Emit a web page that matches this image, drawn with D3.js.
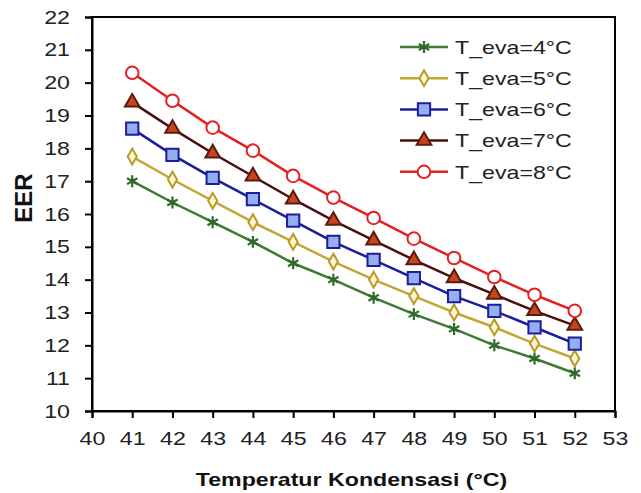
<!DOCTYPE html>
<html>
<head>
<meta charset="utf-8">
<script src="https://cdn.jsdelivr.net/npm/d3@7"></script>
<style>
	body { margin: 0; background: #fff; }
	text { font-family: "Liberation Sans", Arial, sans-serif; }
</style>
</head>
<body>
<script>
const w = 641;
const h = 493;
const m = {top: 17, right: 26, bottom: 82, left: 92};
const k = 1.22; // text in the picture is a bit wider than normal

const kondensasi = [41, 42, 43, 44, 45, 46, 47, 48, 49, 50, 51, 52];
const eer4 = [17.0, 16.35, 15.75, 15.15, 14.5, 14.0, 13.45, 12.95, 12.5, 12.0, 11.6, 11.15];
const eer5 = [17.75, 17.05, 16.4, 15.75, 15.15, 14.55, 14.0, 13.5, 13.0, 12.55, 12.05, 11.6];
const eer6 = [18.6, 17.8, 17.1, 16.45, 15.8, 15.15, 14.6, 14.05, 13.5, 13.05, 12.55, 12.05];
const eer7 = [19.4, 18.6, 17.85, 17.15, 16.45, 15.8, 15.2, 14.6, 14.05, 13.55, 13.05, 12.6];
const eer8 = [20.3, 19.45, 18.63, 17.93, 17.16, 16.5, 15.88, 15.25, 14.66, 14.08, 13.54, 13.05];
const xTicks = [40, 41, 42, 43, 44, 45, 46, 47, 48, 49, 50, 51, 52, 53];
const yTicks = [10, 11, 12, 13, 14, 15, 16, 17, 18, 19, 20, 21, 22];
const labels = ['T_eva=4°C', 'T_eva=5°C', 'T_eva=6°C', 'T_eva=7°C', 'T_eva=8°C'];

const series = [
	{name: labels[0], values: eer4, line: '#3f7a35', stroke: '#2f6a28', fill: '#2f6a28', shape: 'star'},
	{name: labels[1], values: eer5, line: '#c4a637', stroke: '#b89a2a', fill: '#fff6cc', shape: 'diamond'},
	{name: labels[2], values: eer6, line: '#1a1d9c', stroke: '#1a1d9c', fill: '#94aef0', shape: 'square'},
	{name: labels[3], values: eer7, line: '#4a0f0f', stroke: '#5a1a10', fill: '#c8441c', shape: 'triangle'},
	{name: labels[4], values: eer8, line: '#e22222', stroke: '#e22222', fill: '#ffffff', shape: 'circle'}
];

function stretch(sel) {
	sel.each(function () {
		const len = this.getComputedTextLength();
		d3.select(this).attr('textLength', len * k).attr('lengthAdjust', 'spacingAndGlyphs');
	});
}

const svg = d3.select('body').append('svg')
	.attr('width', w)
	.attr('height', h);

const x = d3.scaleLinear().domain([40, 53]).range([m.left, w - m.right]);
const y = d3.scaleLinear().domain([10, 22]).range([h - m.bottom, m.top]);

// frame
svg.append('rect')
	.attr('x', m.left).attr('y', m.top)
	.attr('width', w - m.right - m.left).attr('height', h - m.bottom - m.top)
	.attr('fill', 'none').attr('stroke', '#000').attr('stroke-width', 2);

const xAxis = svg.append('g')
	.attr('transform', `translate(0,${h - m.bottom})`)
	.call(d3.axisBottom(x).tickValues(xTicks).tickSize(7).tickPadding(14).tickFormat(d3.format('d')));

const yAxis = svg.append('g')
	.attr('transform', `translate(${m.left},0)`)
	.call(d3.axisLeft(y).tickValues(yTicks).tickSize(7).tickPadding(15).tickFormat(d3.format('d')));

[xAxis, yAxis].forEach(a => {
	a.select('.domain').attr('stroke', '#000').attr('stroke-width', 2);
	a.selectAll('.tick line').attr('stroke', '#000').attr('stroke-width', 2);
	a.selectAll('.tick text').attr('fill', '#222').style('font-size', '19px').call(stretch);
});

svg.append('text')
	.attr('x', (m.left + w - m.right) / 2 - 2)
	.attr('y', 486)
	.attr('text-anchor', 'middle')
	.attr('fill', '#111')
	.style('font-size', '19px')
	.style('font-weight', 'bold')
	.text('Temperatur Kondensasi (°C)')
	.call(stretch);

svg.append('text')
	.attr('transform', 'translate(32,198) rotate(-90)')
	.attr('text-anchor', 'middle')
	.attr('fill', '#111')
	.style('font-size', '24px')
	.style('font-weight', 'bold')
	.text('EER');

const symbols = {
	star: d3.symbol().type(d3.symbolAsterisk || d3.symbolCross).size(100),
	diamond: d3.symbol().type(d3.symbolDiamond).size(72),
	square: d3.symbol().type(d3.symbolSquare).size(150),
	triangle: d3.symbol().type(d3.symbolTriangle).size(92),
	circle: d3.symbol().type(d3.symbolCircle).size(125)
};

const line = d3.line()
	.x((d, i) => x(kondensasi[i]))
	.y(d => y(d));

function drawMarker(g, s) {
	if (s.shape === 'star') {
		return g.append('path').attr('d', symbols.star())
			.attr('fill', 'none').attr('stroke', s.stroke).attr('stroke-width', 2.2);
	}
	return g.append('path').attr('d', symbols[s.shape]())
		.attr('fill', s.fill).attr('stroke', s.stroke).attr('stroke-width', 2);
}

series.forEach(s => {
	svg.append('path')
		.datum(s.values)
		.attr('d', line)
		.attr('fill', 'none')
		.attr('stroke', s.line)
		.attr('stroke-width', 2.5);
	s.values.forEach((v, i) => {
		const g = svg.append('g').attr('transform', `translate(${x(kondensasi[i])},${y(v)})`);
		drawMarker(g, s);
	});
});

// legend
const legend = svg.append('g').attr('transform', 'translate(400,47)');
series.forEach((s, i) => {
	const row = legend.append('g').attr('transform', `translate(0,${i * 31.2})`);
	row.append('line').attr('x1', 0).attr('x2', 48).attr('y1', 0).attr('y2', 0)
		.attr('stroke', s.line).attr('stroke-width', 2.5);
	const g = row.append('g').attr('transform', 'translate(24,0)');
	drawMarker(g, s);
	row.append('text')
		.attr('x', 55).attr('y', 0).attr('dy', '0.36em')
		.attr('fill', '#222')
		.style('font-size', '19px')
		.text(s.name)
		.call(stretch);
});
</script>
</body>
</html>
